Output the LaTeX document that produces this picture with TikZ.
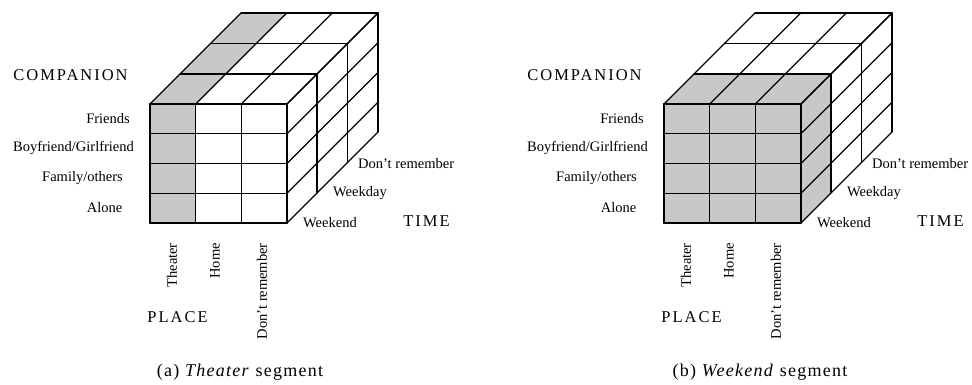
\documentclass[tikz,border=0pt]{standalone}
\usepackage{fontspec}
\setmainfont{Liberation Serif}
\newfontfamily\axisfont[LetterSpace=12]{Liberation Serif}
\newfontfamily\capfont[LetterSpace=7]{Liberation Serif}
\definecolor{cubegray}{RGB}{200,200,200}
\newcommand\cubept[3]{({150+(#1)*45.67+(#3)*30.33},{104+(#2)*29.75-(#3)*30.33})}
\newcommand\cubegrid{%
  \foreach \i in {0,...,3} {\draw[gridline] \cubept{\i}{0}{0} -- \cubept{\i}{4}{0};
                            \draw[gridline] \cubept{\i}{0}{0} -- \cubept{\i}{0}{3};}
  \foreach \j in {0,...,4} {\draw[gridline] \cubept{0}{\j}{0} -- \cubept{3}{\j}{0};
                            \draw[gridline] \cubept{3}{\j}{0} -- \cubept{3}{\j}{3};}
  \foreach \k in {1,...,3} {\draw[gridline] \cubept{0}{0}{\k} -- \cubept{3}{0}{\k};
                            \draw[gridline] \cubept{3}{0}{\k} -- \cubept{3}{4}{\k};}
  \draw[boldline] \cubept{0}{0}{1} -- \cubept{3}{0}{1} -- \cubept{3}{4}{1};
  \draw[boldline] \cubept{0}{0}{0} rectangle \cubept{3}{4}{0};
}
\newcommand\cubelabels[1]{%
  \node[axislab] (#1comp) at (70.5,75) {COMPANION};
  \node[lab] (#1friends) at (108,119) {Friends};
  \node[lab] (#1boy) at (73.5,148) {Boyfriend/Girlfriend};
  \node[lab] (#1family) at (82.5,178) {Family/others};
  \node[lab] (#1alone) at (104.5,208) {Alone};
  \node[lab, anchor=west] (#1dont) at (358,164) {Don’t remember};
  \node[lab, anchor=west] (#1weekday) at (333,193) {Weekday};
  \node[lab, anchor=west] (#1weekend) at (303,223) {Weekend};
  \node[axislab] (#1time) at (426.5,221) {TIME};
  \node[lab, rotate=90, anchor=east] (#1theater) at (172,243) {Theater};
  \node[lab, rotate=90, anchor=east] (#1home) at (215,243) {Home};
  \node[lab, rotate=90, anchor=east] (#1dontp) at (262,243) {Don’t remember};
  \node[axislab] (#1place) at (177.5,317) {PLACE};
}
\begin{document}
\begin{tikzpicture}[x=1pt,y=-1pt,
  gridline/.style={line width=1.2pt, line cap=round, line join=round},
  boldline/.style={line width=1.9pt, line cap=round, line join=round},
  shaded/.style={fill=cubegray},
  lab/.style={font=\fontsize{14.5}{16}\selectfont, inner sep=0pt},
  axislab/.style={font=\axisfont\fontsize{16.5}{18}\selectfont, inner sep=0pt},
  caption/.style={font=\capfont\fontsize{18}{20}\selectfont, inner sep=0pt}]
\useasboundingbox[fill=white] (0,0) rectangle (972,385);
% (a) Theater segment
\begin{scope}
  \fill[shaded] \cubept{0}{0}{0} -- \cubept{1}{0}{0} -- \cubept{1}{4}{0} -- \cubept{0}{4}{0} -- cycle;
  \fill[shaded] \cubept{0}{0}{0} -- \cubept{1}{0}{0} -- \cubept{1}{0}{3} -- \cubept{0}{0}{3} -- cycle;
  \cubegrid
  \cubelabels{a}
  \node[caption] (capa) at (240,372) {(a) \textit{Theater} segment};
\end{scope}
% (b) Weekend segment
\begin{scope}[xshift=514pt]
  \fill[shaded] \cubept{0}{0}{0} -- \cubept{3}{0}{0} -- \cubept{3}{4}{0} -- \cubept{0}{4}{0} -- cycle;
  \fill[shaded] \cubept{0}{0}{0} -- \cubept{3}{0}{0} -- \cubept{3}{0}{1} -- \cubept{0}{0}{1} -- cycle;
  \fill[shaded] \cubept{3}{0}{0} -- \cubept{3}{0}{1} -- \cubept{3}{4}{1} -- \cubept{3}{4}{0} -- cycle;
  \cubegrid
  \cubelabels{b}
  \node[caption] (capb) at (246,372) {(b) \textit{Weekend} segment};
\end{scope}
\end{tikzpicture}
\end{document}
